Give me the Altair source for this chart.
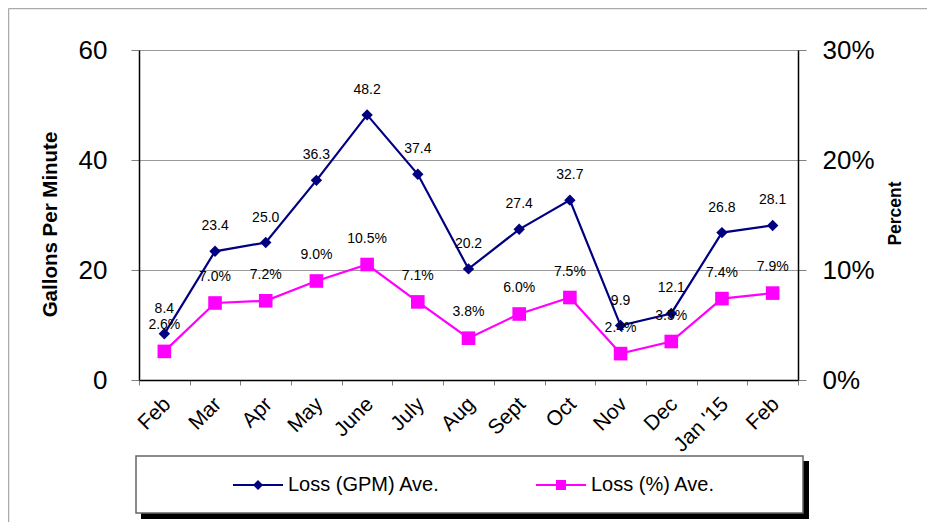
import json
import altair as alt
import pandas as pd

# ---- data ----
months = ["Feb", "Mar", "Apr", "May", "June", "July", "Aug", "Sept", "Oct", "Nov", "Dec", "Jan '15", "Feb"]
gpm = [8.4, 23.4, 25.0, 36.3, 48.2, 37.4, 20.2, 27.4, 32.7, 9.9, 12.1, 26.8, 28.1]
pct = [2.6, 7.0, 7.2, 9.0, 10.5, 7.1, 3.8, 6.0, 7.5, 2.4, 3.5, 7.4, 7.9]
series_names = ["Loss (GPM) Ave.", "Loss (%) Ave."]
left_ticks = [0, 20, 40, 60]
right_ticks = [0, 10, 20, 30]

NAVY = "#000080"
MAGENTA = "#FF00FF"
FONT = "Liberation Sans"

df = pd.DataFrame({"idx": list(range(len(months))), "month": months, "gpm": gpm, "pct": pct})
label_expr = json.dumps(months) + "[datum.value]"

x_enc = alt.X(
    "idx:O",
    scale=alt.Scale(type="band", paddingInner=0, paddingOuter=0),
    axis=alt.Axis(
        title=None, labelExpr=label_expr, labelAngle=-45, labelFontSize=21,
        labelFont=FONT, labelColor="black", labelPadding=8, labelOffset=-5,
        tickBand="extent", tickColor="#808080", tickSize=5,
        domainColor="black", domainWidth=1.5, grid=False,
    ),
)

base = alt.Chart(df)

y_left = alt.Y(
    "gpm:Q",
    scale=alt.Scale(domain=[0, 60], nice=False, zero=True),
    axis=alt.Axis(
        orient="left", values=left_ticks, grid=True, gridColor="#999999", gridWidth=1,
        tickColor="#808080", tickSize=8, labelFontSize=26, labelFont=FONT, labelColor="black",
        labelPadding=24, domainColor="black", domainWidth=1.5,
        title="Gallons Per Minute", titleFont=FONT, titleFontSize=20.5, titleFontWeight="bold",
        titleColor="black", titleAngle=270, titleX=-89, titleY=174,
        titleAlign="center", titleBaseline="middle",
    ),
)

y_right = alt.Y(
    "pct:Q",
    scale=alt.Scale(domain=[0, 30], nice=False, zero=True),
    axis=alt.Axis(
        orient="right", values=right_ticks, grid=False, labelExpr="datum.value + '%'",
        tickColor="#808080", tickSize=8, labelFontSize=26, labelFont=FONT, labelColor="black",
        labelPadding=16, domainColor="black", domainWidth=1.5,
        title="Percent", titleFont=FONT, titleFontSize=17.5, titleFontWeight="bold",
        titleColor="black", titleAngle=270, titleX=97, titleY=163,
        titleAlign="center", titleBaseline="middle",
    ),
)

gpm_line = base.mark_line(color=NAVY, strokeWidth=2.2).encode(x=x_enc, y=y_left)
gpm_pts = base.mark_point(shape="diamond", filled=True, color=NAVY, size=130, opacity=1).encode(x=x_enc, y=y_left)
gpm_txt = base.mark_text(dy=-25, fontSize=14, font=FONT, color="black").encode(
    x=x_enc, y=y_left, text=alt.Text("gpm:Q", format=".1f")
)
left = alt.layer(gpm_line, gpm_pts, gpm_txt)

pct_line = base.mark_line(color=MAGENTA, strokeWidth=2.2).encode(x=x_enc, y=y_right)
pct_pts = base.mark_point(shape="square", filled=True, color=MAGENTA, size=185, opacity=1).encode(x=x_enc, y=y_right)
pct_txt = base.transform_calculate(lab="format(datum.pct, '.1f') + '%'").mark_text(
    dy=-26, fontSize=14, font=FONT, color="black"
).encode(x=x_enc, y=y_right, text="lab:N")
right = alt.layer(pct_line, pct_pts, pct_txt)

# ---- decorations: outer frame, legend box with shadow ----
one = alt.Chart(pd.DataFrame({"a": [0]}))
frame_top = one.mark_rule(color="#aaaaaa", strokeWidth=1.5).encode(
    x=alt.value(-130.5), x2=alt.value(790), y=alt.value(-41.5)
)
frame_left = one.mark_rule(color="#aaaaaa", strokeWidth=1.5).encode(
    x=alt.value(-130.5), y=alt.value(-41.5), y2=alt.value(480)
)
shadow = one.mark_rect(color="black").encode(
    x=alt.value(2), x2=alt.value(670), y=alt.value(411), y2=alt.value(469)
)
box = one.mark_rect(fill="white", stroke="#666666", strokeWidth=1.5).encode(
    x=alt.value(-3), x2=alt.value(664), y=alt.value(406), y2=alt.value(463)
)

# ---- legend via invisible points with custom symbol paths ----
diamond_path = "M-1,-0.04H1V0.04H-1Z M0,-0.2L0.2,0L0,0.2L-0.2,0Z"
square_path = "M-1,-0.04H1V0.04H-1Z M-0.2,-0.2H0.2V0.2H-0.2Z"
leg_df = pd.DataFrame({"series": series_names})
leg_props = dict(
    title=None, orient="none", legendX=94, legendY=410, direction="horizontal",
    symbolSize=2500, symbolOpacity=1, symbolStrokeWidth=0,
    labelFont=FONT, labelFontSize=20, labelColor="black", labelOffset=5,
    columnPadding=96, padding=0, labelLimit=300,
)
legend_layer = alt.Chart(leg_df).mark_point(filled=True, opacity=0).encode(
    color=alt.Color(
        "series:N",
        scale=alt.Scale(domain=series_names, range=[NAVY, MAGENTA]),
        legend=alt.Legend(**leg_props),
    ),
    shape=alt.Shape(
        "series:N",
        scale=alt.Scale(domain=series_names, range=[diamond_path, square_path]),
        legend=alt.Legend(**leg_props),
    ),
)

chart = alt.layer(
    frame_top, frame_left, shadow, box, left, right, legend_layer
).resolve_scale(y="independent").properties(
    width=659, height=330,
    padding={"left": 131, "top": 42, "right": 129, "bottom": 142},
    autosize=alt.AutoSizeParams(type="none"),
    background="white",
).configure_view(stroke=None)

chart.save("out.html", embed_options={"renderer": "svg", "actions": False})
